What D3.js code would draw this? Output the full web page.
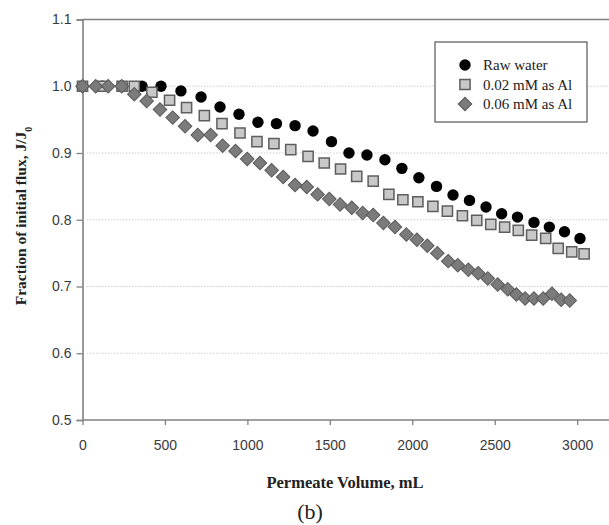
<!DOCTYPE html>
<html><head><meta charset="utf-8">
<script src="https://cdn.jsdelivr.net/npm/d3@7/dist/d3.min.js"></script>
<style>html,body{margin:0;padding:0;background:#fff;}svg{display:block;}</style>
</head><body>
<script>
// ---- data ----
const seriesNames = ["Raw water", "0.02 mM as Al", "0.06 mM as Al"];
const rawVol = [0,120,240,361,476,597,719,834,949,1064,1176,1289,1398,1510,1616,1725,1834,1937,2040,2147,2247,2347,2447,2542,2638,2738,2831,2923,3017];
const rawFlux = [1,1,1,1.0,1.0,0.993,0.984,0.969,0.958,0.946,0.944,0.941,0.933,0.917,0.900,0.897,0.890,0.877,0.863,0.850,0.837,0.829,0.819,0.809,0.804,0.796,0.789,0.782,0.772];
const al02Vol = [0,120,240,314,421,528,631,739,846,955,1058,1161,1263,1368,1466,1565,1663,1763,1858,1943,2034,2125,2213,2304,2391,2476,2560,2643,2724,2809,2885,2967,3042];
const al02Flux = [1,1,1,1.0,0.991,0.979,0.968,0.956,0.944,0.930,0.917,0.914,0.905,0.895,0.885,0.876,0.865,0.858,0.838,0.830,0.827,0.820,0.813,0.806,0.799,0.793,0.789,0.784,0.777,0.772,0.757,0.752,0.749];
const al06Vol = [0,80,156,238,314,389,470,547,622,699,777,850,928,999,1076,1147,1217,1289,1360,1426,1497,1562,1633,1699,1763,1825,1895,1964,2028,2091,2152,2218,2276,2340,2400,2458,2518,2579,2631,2684,2738,2794,2847,2903,2955];
const al06Flux = [1,1,1,1,0.988,0.978,0.965,0.953,0.940,0.927,0.927,0.911,0.903,0.891,0.885,0.874,0.864,0.852,0.849,0.838,0.831,0.823,0.818,0.810,0.807,0.795,0.789,0.778,0.770,0.761,0.750,0.738,0.732,0.725,0.720,0.712,0.703,0.696,0.688,0.682,0.682,0.682,0.689,0.680,0.679];
const xTicks = [0,500,1000,1500,2000,2500,3000];
const yTicks = [0.5,0.6,0.7,0.8,0.9,1.0,1.1];
const gridTicks = [0.6,0.7,0.8,0.9,1.0];

const W = 609, H = 525;
const svg = d3.select("body").append("svg").attr("width", W).attr("height", H);
svg.append("rect").attr("width", W).attr("height", H).attr("fill", "#fff");

const x = d3.scaleLinear().domain([0, 3193]).range([82.5, 609]);
const y = d3.scaleLinear().domain([0.5, 1.1]).range([420, 19.5]);
const axisColor = "#808080", textColor = "#3a3a3a";

// gridlines
svg.append("g").selectAll("line").data(gridTicks).join("line")
  .attr("x1", 87).attr("x2", W)
  .attr("y1", d => y(d)).attr("y2", d => y(d))
  .attr("stroke", "#cfcfcf").attr("stroke-width", 1).attr("stroke-dasharray", "1.5,1.5");

// top border
svg.append("line").attr("x1", x(0)).attr("x2", W).attr("y1", y(1.1)).attr("y2", y(1.1))
  .attr("stroke", axisColor).attr("stroke-width", 1.3);

// axes
const yAxis = d3.axisLeft(y).tickValues(yTicks).tickFormat(d3.format(".1f")).tickSize(6).tickPadding(5);
const gy = svg.append("g").attr("transform", `translate(${x(0)},0)`).call(yAxis);
const xAxis = d3.axisBottom(x).tickValues(xTicks).tickFormat(d3.format("d")).tickSize(5).tickPadding(15);
const gx = svg.append("g").attr("transform", `translate(0,${y(0.5)})`).call(xAxis);
[gx, gy].forEach(g => {
  g.select(".domain").attr("stroke", axisColor).attr("stroke-width", 1.6);
  g.selectAll(".tick line").attr("stroke", axisColor).attr("stroke-width", 1.3);
  g.selectAll(".tick text").attr("fill", textColor)
    .style("font-family", "'Liberation Sans', Arial, sans-serif").style("font-size", "14px");
});
gx.select(".domain").attr("d", `M${x(0)},0H${W}`);

// series
const gData = svg.append("g");
gData.selectAll("circle.raw").data(d3.zip(rawVol, rawFlux)).join("circle")
  .attr("cx", d => x(d[0])).attr("cy", d => y(d[1])).attr("r", 5.7).attr("fill", "#000");
const sq = d3.symbol(d3.symbolSquare, 104);
gData.selectAll("path.sq").data(d3.zip(al02Vol, al02Flux)).join("path")
  .attr("d", sq).attr("transform", d => `translate(${x(d[0])},${y(d[1])})`)
  .attr("fill", "#c8c8c8").attr("stroke", "#5e5e5e").attr("stroke-width", 1.5);
const dm = d3.symbol(d3.symbolSquare, 92);
gData.selectAll("path.dm").data(d3.zip(al06Vol, al06Flux)).join("path")
  .attr("d", dm).attr("transform", d => `translate(${x(d[0])},${y(d[1])}) rotate(45)`)
  .attr("fill", "#7b7b7b").attr("stroke", "#5a5a5a").attr("stroke-width", 1);

// legend
const lg = svg.append("g");
lg.append("rect").attr("x", 435).attr("y", 42).attr("width", 152).attr("height", 80)
  .attr("fill", "#fff").attr("stroke", "#555").attr("stroke-width", 1.2);
const rows = [65, 84.5, 104];
lg.append("circle").attr("cx", 465).attr("cy", rows[0]).attr("r", 5.7).attr("fill", "#000");
lg.append("path").attr("d", sq).attr("transform", `translate(465,${rows[1]})`)
  .attr("fill", "#c8c8c8").attr("stroke", "#5e5e5e").attr("stroke-width", 1.5);
lg.append("path").attr("d", dm).attr("transform", `translate(465,${rows[2]}) rotate(45)`)
  .attr("fill", "#7b7b7b").attr("stroke", "#5a5a5a").attr("stroke-width", 1);
lg.selectAll("text").data(seriesNames).join("text")
  .attr("x", 483).attr("y", (d, i) => rows[i] + 5)
  .attr("fill", "#222").style("font-family", "'Liberation Serif', 'Times New Roman', serif")
  .style("font-size", "15px").text(d => d);

// axis titles
const yl = svg.append("text").attr("transform", "translate(26,216) rotate(-90)")
  .attr("text-anchor", "middle").attr("fill", "#222")
  .style("font-family", "'Liberation Serif', 'Times New Roman', serif")
  .style("font-size", "15.5px").style("font-weight", "bold");
yl.append("tspan").text("Fraction of initial flux, J/J");
yl.append("tspan").attr("baseline-shift", "sub").style("font-size", "10px").text("0");

svg.append("text").attr("x", 345).attr("y", 488).attr("text-anchor", "middle").attr("fill", "#222")
  .style("font-family", "'Liberation Serif', 'Times New Roman', serif")
  .style("font-size", "16.5px").style("font-weight", "bold").text("Permeate Volume, mL");

svg.append("text").attr("x", 310).attr("y", 519).attr("text-anchor", "middle").attr("fill", "#222")
  .style("font-family", "'Liberation Serif', 'Times New Roman', serif")
  .style("font-size", "22px").text("(b)");
</script>
</body></html>
